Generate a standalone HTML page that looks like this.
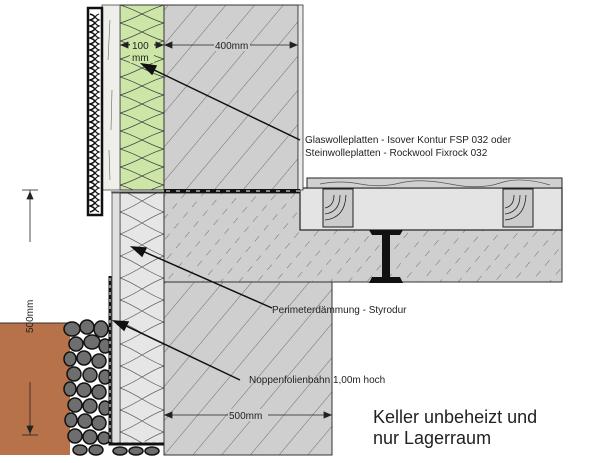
<!DOCTYPE html>
<html><head><meta charset="utf-8"><style>
html,body{margin:0;padding:0;background:#fff;width:600px;height:463px;overflow:hidden}
svg{display:block}
text{font-family:"Liberation Sans",sans-serif;fill:#222}
</style></head><body>
<svg width="600" height="463" viewBox="0 0 600 463" xmlns="http://www.w3.org/2000/svg">
<defs>
<pattern id="hatch" width="22" height="22" patternUnits="userSpaceOnUse" patternTransform="rotate(40)">
<rect width="22" height="22" fill="#cfcfcf"/>
<line x1="0" y1="0" x2="0" y2="22" stroke="#555" stroke-width="0.8"/>
</pattern>
<pattern id="hatch2" width="14" height="14" patternUnits="userSpaceOnUse" patternTransform="rotate(40)">
<rect width="14" height="14" fill="#cfcfcf"/>
<line x1="0" y1="0" x2="0" y2="7" stroke="#555" stroke-width="0.8"/>
</pattern>
<pattern id="wool" width="44" height="18" patternUnits="userSpaceOnUse" x="120" y="5">
<rect width="44" height="18" fill="#cde6a8"/>
<path d="M0 0 C15 4 29 14 44 18 M0 18 C15 14 29 4 44 0" stroke="#444" fill="none" stroke-width="0.7"/>
</pattern>
<pattern id="xps" width="44" height="22" patternUnits="userSpaceOnUse" x="120" y="190">
<rect width="44" height="22" fill="#e6e6e6"/>
<path d="M0 0 C15 5 29 17 44 22 M0 22 C15 17 29 5 44 0" stroke="#555" fill="none" stroke-width="0.7"/>
</pattern>
</defs>
<rect x="0" y="323" width="70" height="132" fill="#b87249"/>
<line x1="0" y1="323" x2="68" y2="323" stroke="#333" stroke-width="1"/>
<g fill="#6e6e6e" stroke="#111" stroke-width="1.5">
<ellipse cx="72" cy="329" rx="8" ry="7"/><ellipse cx="87" cy="327" rx="7" ry="7"/><ellipse cx="101" cy="329" rx="7" ry="8"/>
<ellipse cx="76" cy="344" rx="7" ry="7"/><ellipse cx="92" cy="342" rx="8" ry="7"/><ellipse cx="105" cy="346" rx="6" ry="7"/>
<ellipse cx="70" cy="359" rx="6" ry="7"/><ellipse cx="84" cy="358" rx="7" ry="7"/><ellipse cx="99" cy="361" rx="7" ry="7"/>
<ellipse cx="74" cy="374" rx="7" ry="7"/><ellipse cx="90" cy="375" rx="7" ry="7"/><ellipse cx="105" cy="377" rx="6" ry="7"/>
<ellipse cx="70" cy="389" rx="6" ry="7"/><ellipse cx="84" cy="390" rx="7" ry="7"/><ellipse cx="99" cy="392" rx="7" ry="7"/>
<ellipse cx="75" cy="405" rx="7" ry="7"/><ellipse cx="90" cy="406" rx="7" ry="7"/><ellipse cx="105" cy="408" rx="6" ry="7"/>
<ellipse cx="71" cy="420" rx="6" ry="7"/><ellipse cx="85" cy="421" rx="7" ry="7"/><ellipse cx="99" cy="423" rx="7" ry="7"/>
<ellipse cx="75" cy="436" rx="7" ry="7"/><ellipse cx="90" cy="437" rx="7" ry="7"/><ellipse cx="104" cy="438" rx="6" ry="6"/>
<ellipse cx="80" cy="450" rx="7" ry="5"/><ellipse cx="96" cy="450" rx="7" ry="5"/><ellipse cx="120" cy="451" rx="7" ry="4"/><ellipse cx="136" cy="451" rx="7" ry="4"/><ellipse cx="152" cy="451" rx="7" ry="4"/>
</g>
<rect x="164" y="282" width="168" height="173" fill="url(#hatch)" stroke="#333" stroke-width="1"/>
<rect x="164" y="193" width="398" height="89" fill="url(#hatch2)" stroke="#333" stroke-width="1"/>
<rect x="300" y="188" width="262" height="42" fill="#e4e4e4" stroke="#222" stroke-width="1.2"/>
<rect x="307" y="178" width="255" height="10" fill="#d0d0d0" stroke="#222" stroke-width="1"/>
<path d="M320 184 Q340 180 360 184 T400 183 T450 184 T500 183 T550 185" stroke="#555" fill="none" stroke-width="0.7"/>
<g fill="#ccc" stroke="#222" stroke-width="1">
<rect x="323" y="189" width="30" height="38"/><rect x="503" y="189" width="30" height="38"/>
</g>
<g fill="none" stroke="#222" stroke-width="0.8">
<path d="M325 220 Q345 218 346 195 M325 214 Q340 212 340 195 M325 208 Q334 206 334 195"/>
<path d="M505 220 Q525 218 526 195 M505 214 Q520 212 520 195 M505 208 Q514 206 514 195"/>
</g>
<path d="M369 230 H403 L400 235 H390 V277 H400 L403 283 H369 L372 277 H382 V235 H372 Z" fill="#111"/>
<rect x="164" y="5" width="134" height="185" fill="url(#hatch)" stroke="#333" stroke-width="1"/>
<rect x="298" y="5" width="5" height="185" fill="#e8e8e8" stroke="#333" stroke-width="0.8"/>
<line x1="164" y1="191" x2="300" y2="191" stroke="#111" stroke-width="4"/>
<line x1="166" y1="191" x2="300" y2="191" stroke="#fff" stroke-width="1" stroke-dasharray="4 6"/>
<rect x="120" y="5" width="44" height="185" fill="url(#wool)" stroke="#333" stroke-width="1"/>
<rect x="102" y="5" width="18" height="185" fill="#eeeeea" stroke="#444" stroke-width="0.8"/>
<path d="M110 20 L108 60 M112 90 L111 130 M109 150 L110 180" stroke="#666" stroke-width="0.6"/>
<rect x="88" y="8" width="14" height="207" fill="#fff" stroke="#111" stroke-width="2.5"/>
<path d="M90 14 q9 3 0 6 q9 3 0 6 q9 3 0 6 q9 3 0 6 q9 3 0 6 q9 3 0 6 q9 3 0 6 q9 3 0 6 q9 3 0 6 q9 3 0 6 q9 3 0 6 q9 3 0 6 q9 3 0 6 q9 3 0 6 q9 3 0 6 q9 3 0 6 q9 3 0 6 q9 3 0 6 q9 3 0 6 q9 3 0 6 q9 3 0 6 q9 3 0 6 q9 3 0 6 q9 3 0 6 q9 3 0 6 q9 3 0 6 q9 3 0 6 q9 3 0 6 q9 3 0 6 q9 3 0 6 q9 3 0 6 q9 3 0 6 q9 3 0 6" stroke="#111" fill="none" stroke-width="1.6"/>
<path d="M99 14 q-7 3 0 6 q-7 3 0 6 q-7 3 0 6 q-7 3 0 6 q-7 3 0 6 q-7 3 0 6 q-7 3 0 6 q-7 3 0 6 q-7 3 0 6 q-7 3 0 6 q-7 3 0 6 q-7 3 0 6 q-7 3 0 6 q-7 3 0 6 q-7 3 0 6 q-7 3 0 6 q-7 3 0 6 q-7 3 0 6 q-7 3 0 6 q-7 3 0 6 q-7 3 0 6 q-7 3 0 6 q-7 3 0 6 q-7 3 0 6 q-7 3 0 6 q-7 3 0 6 q-7 3 0 6 q-7 3 0 6 q-7 3 0 6 q-7 3 0 6 q-7 3 0 6 q-7 3 0 6 q-7 3 0 6" stroke="#111" fill="none" stroke-width="1.2"/>
<rect x="120" y="193" width="44" height="252" fill="url(#xps)" stroke="#333" stroke-width="1"/>
<rect x="112" y="193" width="8" height="252" fill="#e0e0e0" stroke="#444" stroke-width="0.8"/>
<line x1="111" y1="192" x2="164" y2="192" stroke="#333" stroke-width="1"/>
<path d="M110 276 V444 H164" stroke="#111" stroke-width="3" fill="none"/>
<path d="M110 278 V442 H162" stroke="#fff" stroke-width="1" fill="none" stroke-dasharray="3 4"/>
<g stroke="#222" stroke-width="0.8" fill="#222">
<line x1="120" y1="45" x2="164" y2="45"/><path d="M121 45 l7 -3 v6z M163 45 l-7 -3 v6z"/>
<line x1="164" y1="45" x2="298" y2="45"/><path d="M165 45 l7 -3 v6z M297 45 l-7 -3 v6z"/>
<line x1="164" y1="415" x2="332" y2="415"/><path d="M165 415 l7 -3 v6z M331 415 l-7 -3 v6z"/>
<line x1="30" y1="190" x2="30" y2="242"/><line x1="22" y1="190" x2="38" y2="190"/><path d="M30 192 l-3 7 h6z"/>
<line x1="30" y1="382" x2="30" y2="435"/><line x1="22" y1="435" x2="38" y2="435"/><path d="M30 433 l-3 -7 h6z"/>
</g>
<rect x="130" y="39" width="24" height="24" fill="#cde6a8"/>
<text x="132" y="49" font-size="10">100</text>
<text x="132" y="61" font-size="10">mm</text>
<rect x="214" y="39" width="36" height="12" fill="#cfcfcf"/>
<text x="215" y="49" font-size="10">400mm</text>
<rect x="228" y="409" width="40" height="12" fill="#cfcfcf"/>
<text x="229" y="419" font-size="10">500mm</text>
<text x="0" y="0" font-size="10" transform="translate(33,333) rotate(-90)">500mm</text>
<g stroke="#111" stroke-width="1.5" fill="#111">
<line x1="300" y1="140" x2="150" y2="68"/><path d="M142 64 l14 2 l-4 8z"/>
<line x1="272" y1="308" x2="140" y2="250"/><path d="M132 247 l14 1 l-4 8z"/>
<line x1="240" y1="380" x2="122" y2="324"/><path d="M114 321 l14 1 l-4 8z"/>
</g>
<text x="305" y="143" font-size="10">Glaswolleplatten - Isover Kontur FSP 032 oder</text>
<text x="305" y="156" font-size="10">Steinwolleplatten - Rockwool Fixrock 032</text>
<text x="272" y="313" font-size="10">Perimeterdämmung - Styrodur</text>
<text x="249" y="383" font-size="10">Noppenfolienbahn 1,00m hoch</text>
<text x="373" y="423" font-size="18">Keller unbeheizt und</text>
<text x="373" y="444" font-size="18">nur Lagerraum</text>
</svg>
</body></html>
